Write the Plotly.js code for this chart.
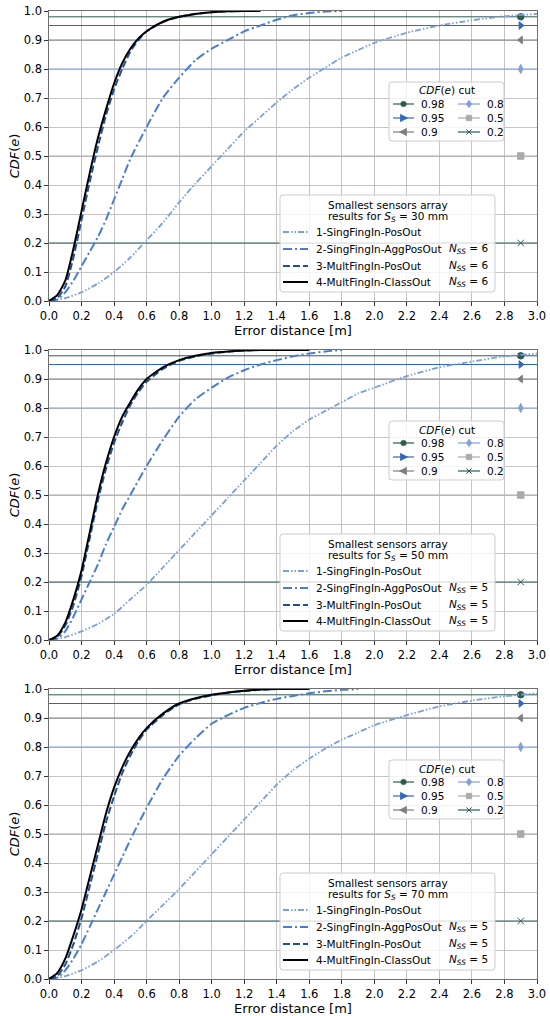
<!DOCTYPE html>
<html><head><meta charset="utf-8">
<script src="https://cdn.plot.ly/plotly-3.0.1.min.js"></script>
<style>html,body{margin:0;padding:0;background:#fff}#chart{width:550px;height:1016px}</style>
</head><body><div id="chart"></div>
<script>
// ---------------- DATA ----------------
const sensorSizesMM = [30, 50, 70];
const nSSValues = [6, 5, 5];
const seriesNames = ['1-SingFingIn-PosOut', '2-SingFingIn-AggPosOut', '3-MultFingIn-PosOut', '4-MultFingIn-ClassOut'];
const cutValues = [0.98, 0.95, 0.9, 0.8, 0.5, 0.2];
const cutLabels = ['0.98', '0.95', '0.9', '0.8', '0.5', '0.2'];
const cutMarkerX = [2.9];
const xAxisRange = [0, 3];
const yAxisRange = [0, 1];
const xTickVals = [0, 0.2, 0.4, 0.6, 0.8, 1.0, 1.2, 1.4, 1.6, 1.8, 2.0, 2.2, 2.4, 2.6, 2.8, 3.0];
const xTickText = ['0.0','0.2','0.4','0.6','0.8','1.0','1.2','1.4','1.6','1.8','2.0','2.2','2.4','2.6','2.8','3.0'];
const yTickVals = [0, 0.1, 0.2, 0.3, 0.4, 0.5, 0.6, 0.7, 0.8, 0.9, 1.0];
const yTickText = ['0.0','0.1','0.2','0.3','0.4','0.5','0.6','0.7','0.8','0.9','1.0'];

// S_S = 30 mm
const s30_c1_x = [0,0.1,0.2,0.3,0.4,0.5,0.6,0.7,0.8,0.9,1.0,1.1,1.2,1.3,1.4,1.5,1.6,1.7,1.8,1.9,2.0,2.2,2.4,2.6,2.8,3.0];
const s30_c1_y = [0,0.01,0.03,0.06,0.1,0.15,0.21,0.27,0.34,0.405,0.465,0.525,0.585,0.635,0.685,0.73,0.77,0.805,0.84,0.865,0.89,0.925,0.95,0.968,0.982,0.99];
const s30_c2_x = [0,0.05,0.1,0.15,0.2,0.25,0.3,0.35,0.4,0.45,0.5,0.6,0.7,0.8,0.9,1.0,1.1,1.2,1.3,1.4,1.5,1.6,1.7,1.8];
const s30_c2_y = [0,0.005,0.03,0.07,0.12,0.17,0.22,0.28,0.35,0.42,0.49,0.6,0.7,0.77,0.83,0.87,0.9,0.93,0.95,0.97,0.985,0.993,0.998,1.0];
const s30_c3_x = [0,0.05,0.1,0.15,0.2,0.25,0.3,0.35,0.4,0.45,0.5,0.55,0.6,0.7,0.8,0.9,1.0,1.1,1.2];
const s30_c3_y = [0,0.01,0.05,0.15,0.28,0.41,0.53,0.64,0.73,0.80,0.86,0.9,0.93,0.962,0.98,0.99,0.996,0.999,1.0];
const s30_c4_x = [0,0.05,0.1,0.15,0.2,0.25,0.3,0.35,0.4,0.45,0.5,0.55,0.6,0.7,0.8,0.9,1.0,1.1,1.2,1.3];
const s30_c4_y = [0,0.02,0.07,0.18,0.31,0.44,0.56,0.66,0.75,0.82,0.87,0.905,0.93,0.963,0.98,0.99,0.996,0.999,1.0,1.0];

// S_S = 50 mm
const s50_c1_x = [0,0.1,0.2,0.3,0.4,0.5,0.6,0.7,0.8,0.9,1.0,1.1,1.2,1.3,1.4,1.5,1.6,1.7,1.8,1.9,2.0,2.2,2.4,2.6,2.8,3.0];
const s50_c1_y = [0,0.01,0.03,0.055,0.09,0.14,0.19,0.25,0.31,0.37,0.43,0.49,0.55,0.61,0.67,0.72,0.76,0.79,0.82,0.85,0.87,0.91,0.94,0.96,0.978,0.988];
const s50_c2_x = [0,0.05,0.1,0.15,0.2,0.25,0.3,0.35,0.4,0.45,0.5,0.6,0.7,0.8,0.9,1.0,1.1,1.2,1.3,1.4,1.5,1.6,1.7,1.8];
const s50_c2_y = [0,0.005,0.03,0.08,0.14,0.2,0.26,0.33,0.39,0.45,0.5,0.6,0.69,0.77,0.83,0.87,0.905,0.93,0.95,0.965,0.978,0.988,0.995,1.0];
const s50_c3_x = [0,0.05,0.1,0.15,0.2,0.25,0.3,0.35,0.4,0.45,0.5,0.55,0.6,0.7,0.8,0.9,1.0,1.1,1.2,1.3];
const s50_c3_y = [0,0.01,0.05,0.12,0.22,0.35,0.48,0.59,0.68,0.75,0.81,0.855,0.89,0.935,0.962,0.978,0.988,0.994,0.998,1.0];
const s50_c4_x = [0,0.05,0.1,0.15,0.2,0.25,0.3,0.35,0.4,0.45,0.5,0.55,0.6,0.7,0.8,0.9,1.0,1.1,1.2,1.3,1.4,1.5,1.6];
const s50_c4_y = [0,0.015,0.06,0.14,0.24,0.37,0.5,0.61,0.7,0.77,0.82,0.865,0.9,0.94,0.965,0.98,0.99,0.995,0.998,1.0,1.0,1.0,1.0];

// S_S = 70 mm
const s70_c1_x = [0,0.1,0.2,0.3,0.4,0.5,0.6,0.7,0.8,0.9,1.0,1.1,1.2,1.3,1.4,1.5,1.6,1.7,1.8,1.9,2.0,2.2,2.4,2.6,2.8,3.0];
const s70_c1_y = [0,0.01,0.03,0.06,0.1,0.145,0.2,0.255,0.31,0.37,0.43,0.49,0.55,0.61,0.67,0.72,0.76,0.795,0.825,0.85,0.875,0.91,0.94,0.96,0.975,0.985];
const s70_c2_x = [0,0.05,0.1,0.15,0.2,0.25,0.3,0.35,0.4,0.45,0.5,0.6,0.7,0.8,0.9,1.0,1.1,1.2,1.3,1.4,1.5,1.6,1.7,1.8,1.9];
const s70_c2_y = [0,0.005,0.03,0.07,0.12,0.18,0.24,0.3,0.36,0.42,0.48,0.59,0.69,0.77,0.83,0.88,0.91,0.935,0.952,0.966,0.976,0.985,0.992,0.997,0.999];
const s70_c3_x = [0,0.05,0.1,0.15,0.2,0.25,0.3,0.35,0.4,0.45,0.5,0.55,0.6,0.7,0.8,0.9,1.0,1.1,1.2,1.3,1.4];
const s70_c3_y = [0,0.01,0.05,0.12,0.21,0.32,0.43,0.54,0.63,0.71,0.77,0.82,0.86,0.91,0.947,0.966,0.978,0.987,0.993,0.997,1.0];
const s70_c4_x = [0,0.05,0.1,0.15,0.2,0.25,0.3,0.35,0.4,0.45,0.5,0.55,0.6,0.7,0.8,0.9,1.0,1.1,1.2,1.3,1.4,1.5,1.6];
const s70_c4_y = [0,0.02,0.07,0.15,0.24,0.35,0.46,0.57,0.66,0.73,0.785,0.83,0.865,0.915,0.95,0.968,0.98,0.988,0.994,0.998,1.0,1.0,1.0];

// ---------------- STYLE ----------------
const FONT = 'DejaVu Sans, Liberation Sans, sans-serif';
const seriesColors = ['#7b9fd9', '#4a7dd0', '#1e4e98', '#000000'];
const seriesDash = ['6px,2px,1.5px,2px,1.5px,2px', '9px,3px,2px,3px', '7px,3px', 'solid'];
const seriesWidth = [1.8, 2, 2, 2];
const cutColors = ['#2d5c4c', '#3166c0', '#7f7f7f', '#80a0d6', '#aaaaaa', '#2b5d56'];
const cutSymbols = ['circle', 'triangle-right', 'triangle-left', 'diamond-tall', 'square', 'x-thin'];

const W = 550, H = 1016, ML = 49, MR = 13, MT = 11, MB = 37;
const plotW = W - ML - MR, plotH = H - MT - MB;
const panelH = 290, panelGap = 49;
const fx = px => (px - ML) / plotW;
const fy = py => (H - MB - py) / plotH;

const panelData = [
  [[s30_c1_x, s30_c1_y], [s30_c2_x, s30_c2_y], [s30_c3_x, s30_c3_y], [s30_c4_x, s30_c4_y]],
  [[s50_c1_x, s50_c1_y], [s50_c2_x, s50_c2_y], [s50_c3_x, s50_c3_y], [s50_c4_x, s50_c4_y]],
  [[s70_c1_x, s70_c1_y], [s70_c2_x, s70_c2_y], [s70_c3_x, s70_c3_y], [s70_c4_x, s70_c4_y]]
];

const traces = [];
const layout = {
  width: W, height: H,
  margin: {l: ML, r: MR, t: MT, b: MB},
  paper_bgcolor: '#fff', plot_bgcolor: '#fff',
  showlegend: false,
  font: {family: FONT, size: 11.5, color: '#000'},
  shapes: [], annotations: []
};

function ptsPath(pts) {
  return 'M' + pts.map(p => fx(p[0]).toFixed(5) + ',' + fy(p[1]).toFixed(5)).join('L') + 'Z';
}
function roundRectPath(x0, y0, x1, y1, r) {
  const P = (x, y) => fx(x).toFixed(5) + ',' + fy(y).toFixed(5);
  return 'M' + P(x0 + r, y0) + 'L' + P(x1 - r, y0) + 'Q' + P(x1, y0) + ' ' + P(x1, y0 + r) +
    'L' + P(x1, y1 - r) + 'Q' + P(x1, y1) + ' ' + P(x1 - r, y1) +
    'L' + P(x0 + r, y1) + 'Q' + P(x0, y1) + ' ' + P(x0, y1 - r) +
    'L' + P(x0, y0 + r) + 'Q' + P(x0, y0) + ' ' + P(x0 + r, y0) + 'Z';
}
function legendMarker(sym, cx, cy, color) {
  const base = {type: 'path', xref: 'paper', yref: 'paper', layer: 'above', fillcolor: color, line: {color: color, width: 0.8}};
  if (sym === 'circle') return [{type: 'circle', xref: 'paper', yref: 'paper', layer: 'above', x0: fx(cx - 2.8), x1: fx(cx + 2.8), y0: fy(cy + 2.8), y1: fy(cy - 2.8), fillcolor: color, line: {color: color, width: 0.5}}];
  if (sym === 'triangle-right') return [Object.assign({}, base, {path: ptsPath([[cx - 3, cy - 3.6], [cx + 4, cy], [cx - 3, cy + 3.6]])})];
  if (sym === 'triangle-left') return [Object.assign({}, base, {path: ptsPath([[cx + 3, cy - 3.6], [cx - 4, cy], [cx + 3, cy + 3.6]])})];
  if (sym === 'diamond-tall') return [Object.assign({}, base, {path: ptsPath([[cx, cy - 3.8], [cx + 2.6, cy], [cx, cy + 3.8], [cx - 2.6, cy]])})];
  if (sym === 'square') return [Object.assign({}, base, {path: ptsPath([[cx - 2.7, cy - 2.7], [cx + 2.7, cy - 2.7], [cx + 2.7, cy + 2.7], [cx - 2.7, cy + 2.7]])})];
  const P = (x, y) => fx(x).toFixed(5) + ',' + fy(y).toFixed(5);
  return [{type: 'path', xref: 'paper', yref: 'paper', layer: 'above', line: {color: color, width: 1},
    path: 'M' + P(cx - 2.6, cy - 2.6) + 'L' + P(cx + 2.6, cy + 2.6) + 'M' + P(cx - 2.6, cy + 2.6) + 'L' + P(cx + 2.6, cy - 2.6)}];
}
function addText(text, x, y, xanchor, size) {
  layout.annotations.push({text: text, xref: 'paper', yref: 'paper', x: fx(x), y: fy(y),
    xanchor: xanchor, yanchor: 'middle', showarrow: false, borderpad: 0,
    font: {family: FONT, size: size || 10.5, color: '#000'}});
}

for (let p = 0; p < 3; p++) {
  const top = MT + p * (panelH + panelGap);
  const bottom = top + panelH;
  const sfx = p === 0 ? '' : String(p + 1);
  const xa = 'x' + sfx, ya = 'y' + sfx;
  layout['xaxis' + sfx] = {
    domain: [0, 1], anchor: ya, range: xAxisRange, tickvals: xTickVals, ticktext: xTickText,
    showgrid: true, gridcolor: '#c4c4c4', gridwidth: 1, zeroline: false,
    showline: true, linecolor: '#6f6f6f', linewidth: 1.2, mirror: true,
    ticks: 'outside', ticklen: 3.5, tickcolor: '#333', tickwidth: 1,
    tickfont: {family: FONT, size: 11.5, color: '#000'},
    title: {text: 'Error distance [m]', font: {family: FONT, size: 13, color: '#000'}, standoff: 3}
  };
  layout['yaxis' + sfx] = {
    domain: [fy(bottom), fy(top)], anchor: xa, range: yAxisRange, tickvals: yTickVals, ticktext: yTickText,
    showgrid: true, gridcolor: '#c4c4c4', gridwidth: 1, zeroline: false,
    showline: true, linecolor: '#6f6f6f', linewidth: 1.2, mirror: true,
    ticks: 'outside', ticklen: 3.5, tickcolor: '#333', tickwidth: 1,
    tickfont: {family: FONT, size: 11.5, color: '#000'},
    title: {text: '<i>CDF</i>(<i>e</i>)', font: {family: FONT, size: 13, color: '#000'}, standoff: 1}
  };

  // cut lines with markers
  for (let k = 0; k < cutValues.length; k++) {
    traces.push({type: 'scatter', mode: 'lines', xaxis: xa, yaxis: ya, x: xAxisRange, y: [cutValues[k], cutValues[k]],
      line: {color: cutColors[k], width: 1}, hoverinfo: 'skip', cliponaxis: true});
    traces.push({type: 'scatter', mode: 'markers', xaxis: xa, yaxis: ya, x: cutMarkerX, y: [cutValues[k]],
      marker: {symbol: cutSymbols[k], size: 6.5, color: cutColors[k], line: {color: cutColors[k], width: 1}}, hoverinfo: 'skip'});
  }
  // curves
  for (let s = 0; s < 4; s++) {
    traces.push({type: 'scatter', mode: 'lines', xaxis: xa, yaxis: ya, name: seriesNames[s],
      x: panelData[p][s][0], y: panelData[p][s][1],
      line: {color: seriesColors[s], width: seriesWidth[s], dash: seriesDash[s], shape: 'spline', smoothing: 0.6},
      hoverinfo: 'skip'});
  }

  // ---- cut legend ----
  const cx0 = 389, cx1 = 504, cy0 = top + 71, cy1 = top + 130;
  layout.shapes.push({type: 'path', xref: 'paper', yref: 'paper', layer: 'above',
    path: roundRectPath(cx0, cy0, cx1, cy1, 3), fillcolor: 'rgba(255,255,255,0.8)', line: {color: '#cccccc', width: 1}});
  addText('<i>CDF</i>(<i>e</i>) cut', (cx0 + cx1) / 2, top + 79.5, 'center', 10.5);
  for (let k = 0; k < cutValues.length; k++) {
    const col = Math.floor(k / 3), row = k % 3;
    const ly = top + 93 + row * 14;
    const lx0 = col === 0 ? 393 : 458, lx1 = col === 0 ? 414 : 480;
    layout.shapes.push({type: 'line', xref: 'paper', yref: 'paper', layer: 'above',
      x0: fx(lx0), x1: fx(lx1), y0: fy(ly), y1: fy(ly), line: {color: cutColors[k], width: 1.2}});
    legendMarker(cutSymbols[k], (lx0 + lx1) / 2, ly, cutColors[k]).forEach(sh => layout.shapes.push(sh));
    addText(cutLabels[k], col === 0 ? 420 : 486, ly, 'left', 10.5);
  }

  // ---- series legend ----
  const bx0 = 280, bx1 = 495, by0 = top + 184, by1 = top + 281;
  layout.shapes.push({type: 'path', xref: 'paper', yref: 'paper', layer: 'above',
    path: roundRectPath(bx0, by0, bx1, by1, 3), fillcolor: 'rgba(255,255,255,0.8)', line: {color: '#cccccc', width: 1}});
  addText('Smallest sensors array', (bx0 + bx1) / 2, top + 194, 'center', 10.5);
  addText('results for <i>S<sub>S</sub></i> = ' + sensorSizesMM[p] + ' mm', (bx0 + bx1) / 2, top + 206, 'center', 10.5);
  const rowY = [221, 238, 255, 271];
  for (let s = 0; s < 4; s++) {
    const ly = top + rowY[s];
    layout.shapes.push({type: 'line', xref: 'paper', yref: 'paper', layer: 'above',
      x0: fx(283), x1: fx(308), y0: fy(ly), y1: fy(ly),
      line: {color: seriesColors[s], width: seriesWidth[s], dash: seriesDash[s]}});
    addText(seriesNames[s], 315, ly, 'left', 10.5);
    if (s > 0) addText('<i>N<sub>SS</sub></i> = ' + nSSValues[p], 489, ly, 'right', 10.5);
  }
}

Plotly.newPlot('chart', traces, layout, {staticPlot: true, displayModeBar: false});
</script>
</body></html>
